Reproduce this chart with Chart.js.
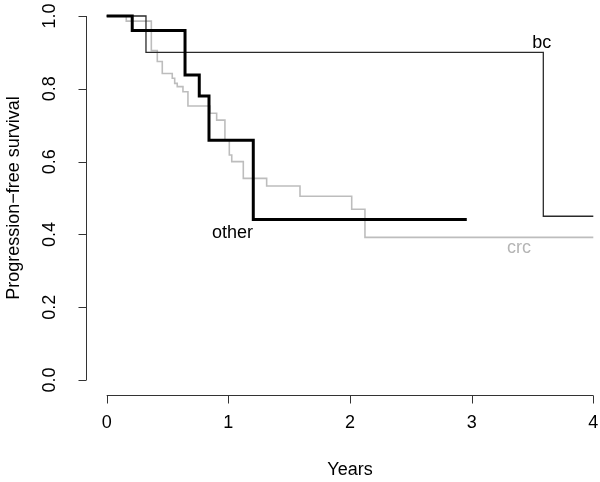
<!DOCTYPE html>
<html>
<head>
<meta charset="utf-8">
<script src="https://cdn.jsdelivr.net/npm/chart.js@4/dist/chart.umd.min.js"></script>
<style>
  html, body { margin: 0; padding: 0; background: #fff; overflow: hidden; }
  #wrap { width: 600px; height: 482px; position: relative; }
</style>
</head>
<body>
<div id="wrap"><canvas id="chart" width="600" height="482"></canvas></div>
<script>
// survival curves (years, fraction progression-free)
const otherTimes = [0, 0.21, 0.644, 0.761, 0.841, 1.205, 2.96]
const otherSurv = [1, 0.96, 0.838, 0.78, 0.659, 0.441, 0.441]

const bcTimes = [0, 0.323, 3.589, 4.0]
const bcSurv = [1, 0.9, 0.45, 0.45]

const crcTimes = [0, 0.161, 0.367, 0.416, 0.457, 0.539, 0.559, 0.58, 0.627, 0.668, 0.849, 0.904, 0.972, 1.008, 1.028, 1.123, 1.315, 1.589, 2.014, 2.123, 4.0]
const crcSurv = [1, 0.986, 0.905, 0.875, 0.842, 0.829, 0.815, 0.806, 0.792, 0.753, 0.733, 0.714, 0.659, 0.618, 0.6, 0.554, 0.533, 0.505, 0.469, 0.392, 0.392]

// axis ticks
const xTicks = [0, 1, 2, 3, 4]
const yTicks = [0, 0.2, 0.4, 0.6, 0.8, 1.0]

// curve labels: text, x (years), y (survival, baseline)
const curveLabels = ['bc', 'other', 'crc']
const curveLabelX = [3.576, 1.034, 3.39]
const curveLabelY = [0.911, 0.39, 0.348]
const curveLabelColor = ['#000', '#000', '#b5b5b5']

const FONT = '"Liberation Sans", Arial, Helvetica, sans-serif'

function pts(xs, ys) {
  return xs.map((x, i) => ({ x: x, y: ys[i] }))
}

// R-style axes and text, drawn through the chart scales
const rAxes = {
  id: 'rAxes',
  afterDraw(chart) {
    const ctx = chart.ctx
    const xs = chart.scales.x
    const ys = chart.scales.y
    const area = chart.chartArea
    const tick = 8
    ctx.save()
    ctx.strokeStyle = '#333'
    ctx.lineWidth = 1
    ctx.fillStyle = '#000'
    ctx.font = '18px ' + FONT

    // x axis
    const ay = Math.round(area.bottom) + 0.5
    ctx.beginPath()
    ctx.moveTo(xs.getPixelForValue(xTicks[0]), ay)
    ctx.lineTo(xs.getPixelForValue(xTicks[xTicks.length - 1]), ay)
    xTicks.forEach(t => {
      const px = Math.round(xs.getPixelForValue(t)) + 0.5
      ctx.moveTo(px, ay)
      ctx.lineTo(px, ay + tick)
    })
    ctx.stroke()
    ctx.textAlign = 'center'
    ctx.textBaseline = 'middle'
    xTicks.forEach(t => {
      ctx.fillText(String(t), xs.getPixelForValue(t), ay + 28)
    })
    ctx.fillText('Years', xs.getPixelForValue(2), 470)

    // y axis
    const ax = Math.round(area.left) + 0.5
    ctx.beginPath()
    ctx.moveTo(ax, ys.getPixelForValue(yTicks[0]))
    ctx.lineTo(ax, ys.getPixelForValue(yTicks[yTicks.length - 1]))
    yTicks.forEach(v => {
      const py = Math.round(ys.getPixelForValue(v)) + 0.5
      ctx.moveTo(ax, py)
      ctx.lineTo(ax - tick, py)
    })
    ctx.stroke()
    yTicks.forEach(v => {
      ctx.save()
      ctx.translate(ax - 36, ys.getPixelForValue(v))
      ctx.rotate(-Math.PI / 2)
      ctx.fillText(v.toFixed(1), 0, 0)
      ctx.restore()
    })
    ctx.save()
    ctx.translate(14, (ys.getPixelForValue(0) + ys.getPixelForValue(1)) / 2)
    ctx.rotate(-Math.PI / 2)
    ctx.fillText('Progression\u2212free survival', 0, 0)
    ctx.restore()

    // curve labels
    ctx.textBaseline = 'alphabetic'
    curveLabels.forEach((txt, i) => {
      ctx.fillStyle = curveLabelColor[i]
      ctx.fillText(txt, xs.getPixelForValue(curveLabelX[i]), ys.getPixelForValue(curveLabelY[i]))
    })
    ctx.restore()
  }
}

const ctx = document.getElementById('chart').getContext('2d')
let chart = new Chart(ctx, {
  type: 'line',
  data: {
    datasets: [
      {
        label: 'other',
        data: pts(otherTimes, otherSurv),
        borderColor: '#000',
        borderWidth: 3,
        stepped: true,
        pointRadius: 0,
        fill: false,
        order: 0
      },
      {
        label: 'bc',
        data: pts(bcTimes, bcSurv),
        borderColor: '#2a2a2a',
        borderWidth: 1.3,
        stepped: true,
        pointRadius: 0,
        fill: false,
        order: 1
      },
      {
        label: 'crc',
        data: pts(crcTimes, crcSurv),
        borderColor: '#bdbdbd',
        borderWidth: 1.6,
        stepped: true,
        pointRadius: 0,
        fill: false,
        order: 2
      }
    ]
  },
  options: {
    responsive: false,
    animation: false,
    layout: { padding: { left: 86, right: 0, top: 0, bottom: 87.4 } },
    scales: {
      x: { type: 'linear', min: -0.170, max: 4.055, display: false },
      y: { type: 'linear', min: -0.04, max: 1.044, display: false }
    },
    plugins: {
      legend: { display: false },
      tooltip: { enabled: false }
    }
  },
  plugins: [rAxes]
})
</script>
</body>
</html>
